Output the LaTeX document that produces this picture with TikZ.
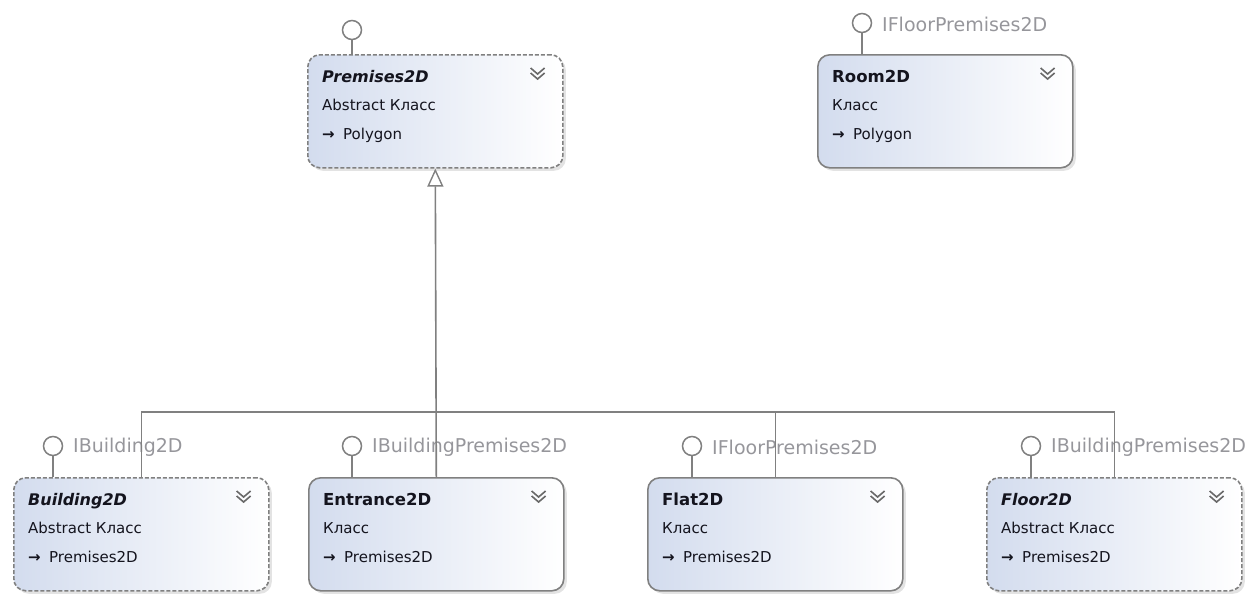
\documentclass[tikz,border=0pt]{standalone}
\usepackage{fontspec}
\setmainfont{DejaVu Sans}
\usetikzlibrary{arrows.meta,shadows,positioning}

\definecolor{linegray}{RGB}{128,128,128}
\definecolor{labelgray}{RGB}{150,150,155}
\definecolor{boxblue}{RGB}{211,220,238}
\definecolor{chevgray}{RGB}{105,105,105}
\definecolor{textdark}{RGB}{20,20,30}

\tikzset{
	classbox/.style={draw=linegray, line width=1.6pt, rounded corners=12pt,
		left color=boxblue, right color=white, minimum width=255pt,
		minimum height=113pt, anchor=north west, inner sep=0pt,
		drop shadow={shadow xshift=3pt, shadow yshift=-3pt, fill=black!22}},
	abstractbox/.style={classbox, dash pattern=on 4pt off 2pt},
	classtitle/.style={anchor=base west, inner sep=0pt, text=textdark, font=\fontsize{16.5}{19}\selectfont\bfseries},
	abstracttitle/.style={classtitle, font=\fontsize{16}{19}\selectfont\bfseries\itshape},
	classtext/.style={anchor=base west, inner sep=0pt, text=textdark, font=\fontsize{15}{18}\selectfont},
	chev/.style={draw=chevgray, line width=1.6pt},
	conn/.style={draw=linegray, line width=1.6pt},
	inherit/.style={conn, -{Triangle[open, length=18pt, width=16pt, line width=1.4pt]}},
	lolli/.style={circle, draw=linegray, line width=1.5pt, fill=white, minimum size=19pt, inner sep=0pt},
	iflabel/.style={anchor=west, inner sep=0pt, text=labelgray, font=\fontsize{19}{22}\selectfont}
}

% #1 name, #2 x, #3 y, #4 box style, #5 title style, #6 title, #7 kind, #8 base, #9 interface
\newcommand{\umlclass}[9]{
	\node[#4] (#1) at (#2,#3) {};
	\node[#5] (#1-title) at ([xshift=15pt, yshift=-28pt]#1.north west) {#6};
	\node[classtext] (#1-kind) at ([xshift=15pt, yshift=-56pt]#1.north west) {#7};
	\node[classtext] (#1-arrow) at ([xshift=15pt, yshift=-85pt]#1.north west) {\bfseries →};
	\node[classtext] (#1-base) at ([xshift=36pt, yshift=-85pt]#1.north west) {#8};
	\draw[chev] ([xshift=-33pt, yshift=-14pt]#1.north east) -- ++(7,6) -- ++(7,-6);
	\draw[chev] ([xshift=-33pt, yshift=-19pt]#1.north east) -- ++(7,6) -- ++(7,-6);
	\draw[conn] (#1-if) -- (#1-if |- #1.north);
	\node[iflabel] (#1-iflabel) at ([xshift=20pt, yshift=-1pt]#1-if.center) {#9};
}

\begin{document}
\begin{tikzpicture}[x=1pt, y=-1pt]
	\useasboundingbox (0,0) rectangle (1256,595);

	\node[lolli] (premises-if) at (352,30) {};
	\node[lolli] (room-if) at (862,23) {};
	\node[lolli] (building-if) at (53,446) {};
	\node[lolli] (entrance-if) at (352,446) {};
	\node[lolli] (flat-if) at (692,446) {};
	\node[lolli] (floor-if) at (1031,446) {};

	\umlclass{premises}{307}{54}{abstractbox}{abstracttitle}{Premises2D}{Abstract Класс}{Polygon}{}
	\umlclass{room}{817}{54}{classbox}{classtitle}{Room2D}{Класс}{Polygon}{IFloorPremises2D}

	\umlclass{building}{13}{477}{abstractbox}{abstracttitle}{Building2D}{Abstract Класс}{Premises2D}{IBuilding2D}
	\umlclass{entrance}{308}{477}{classbox}{classtitle}{Entrance2D}{Класс}{Premises2D}{IBuildingPremises2D}
	\umlclass{flat}{647}{477}{classbox}{classtitle}{Flat2D}{Класс}{Premises2D}{IFloorPremises2D}
	\umlclass{floor}{986}{477}{abstractbox}{abstracttitle}{Floor2D}{Abstract Класс}{Premises2D}{IBuildingPremises2D}

	\coordinate (bus) at (entrance.north |- 0,412);
	\draw[inherit] (entrance.north) -- (premises.south);
	\draw[conn] (building.north) |- (bus) -| (floor.north);
	\draw[conn] (flat.north) -- (flat.north |- bus);
\end{tikzpicture}
\end{document}
